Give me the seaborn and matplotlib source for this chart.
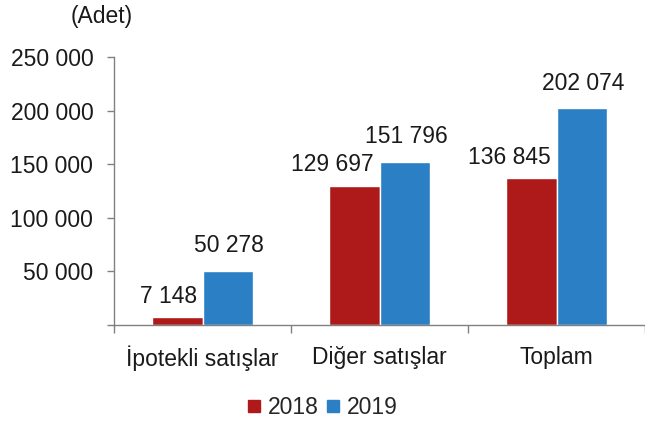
import matplotlib
matplotlib.use('Agg')
import matplotlib.pyplot as plt
import pandas as pd
import seaborn as sns
from matplotlib.ticker import FuncFormatter, FixedLocator
from matplotlib.lines import Line2D

categories = ['İpotekli satışlar', 'Diğer satışlar', 'Toplam']
years = ['2018', '2019']
values_2018 = [7148, 129697, 136845]
values_2019 = [50278, 151796, 202074]
colors = ['#AE1A1A', '#2B80C5']

df = pd.DataFrame({
    'kategori': categories * 2,
    'yil': [years[0]] * 3 + [years[1]] * 3,
    'adet': values_2018 + values_2019,
})

sns.set_style('white')
plt.rcParams['font.family'] = ['Liberation Sans', 'DejaVu Sans']
FS = 16.5
TXT = '#1a1a1a'

fig = plt.figure(figsize=(6.45, 4.24), dpi=100)
ax = fig.add_axes([0.177, 0.2335, 0.823, 0.632])

sns.barplot(data=df, x='kategori', y='adet', hue='yil', palette=colors,
            width=0.57, ax=ax, legend=False, saturation=1)

ax.set_xlim(-0.5, 2.5)
ax.set_ylim(0, 250000)
ax.set_xlabel('')
ax.set_ylabel('')

fmt = lambda v, p: '' if v == 0 else f'{int(v):,}'.replace(',', ' ')
ax.yaxis.set_major_formatter(FuncFormatter(fmt))
ax.set_yticks(range(0, 250001, 50000))
ax.xaxis.set_minor_locator(FixedLocator([-0.5, 0.5, 1.5, 2.5]))
ax.tick_params(axis='x', which='major', length=0, pad=15, labelsize=FS, labelcolor=TXT)
ax.tick_params(axis='x', which='minor', length=6, width=1, color='#808080', direction='out', bottom=True)
ax.tick_params(axis='y', length=5, width=1, color='#808080', direction='out', left=True,
               labelsize=FS, labelcolor=TXT, pad=10)

for s in ['top', 'right']:
    ax.spines[s].set_visible(False)
for s in ['left', 'bottom']:
    ax.spines[s].set_color('#808080')
    ax.spines[s].set_linewidth(1)

# değer etiketleri
lab = lambda v: f'{v:,}'.replace(',', ' ')
for i, p in enumerate(ax.patches[:3]):
    x = p.get_x() + p.get_width()
    h = p.get_height()
    ax.annotate(lab(values_2018[i]), (x, h), xytext=(-4, 7), textcoords='offset points',
                ha='right', va='bottom', fontsize=FS, color=TXT)
for i, p in enumerate(ax.patches[3:6]):
    x = p.get_x() + p.get_width() / 2
    h = p.get_height()
    ax.annotate(lab(values_2019[i]), (x, h), xytext=(1, 10), textcoords='offset points',
                ha='center', va='bottom', fontsize=FS, color=TXT)

fig.text(0.109, 0.96, '(Adet)', ha='left', va='center', fontsize=FS, color=TXT)

handles = [Line2D([0], [0], marker='s', linestyle='', color=c, markersize=9) for c in colors]
fig.legend(handles, years, loc='center', bbox_to_anchor=(0.497, 0.038), ncol=2, frameon=False,
           fontsize=FS, handletextpad=0.15, columnspacing=0.2, handlelength=0.9)

fig.savefig('out.png', dpi=100)
